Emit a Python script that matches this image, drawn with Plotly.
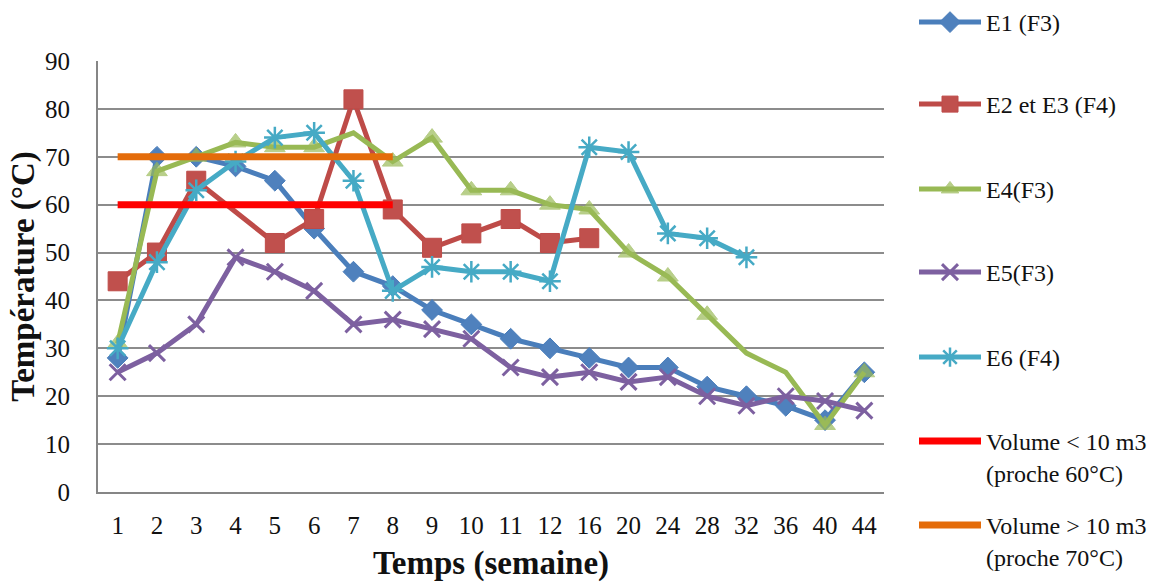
import plotly.graph_objects as go

# Weeks (categorical axis, non-uniform spacing after week 12)
weeks = ["1", "2", "3", "4", "5", "6", "7", "8", "9", "10", "11", "12",
         "16", "20", "24", "28", "32", "36", "40", "44"]

# Compost temperatures (°C) per windrow
e1 = [28, 70, 70, 68, 65, 55, 46, 43, 38, 35, 32, 30, 28, 26, 26, 22, 20, 18, 15, 25]
e2_e3 = [44, 50, 65, None, 52, 57, 82, 59, 51, 54, 57, 52, 53, None, None, None, None, None, None, None]
e4 = [31, 67, 70, 73, 72, 72, 75, 69, 74, 63, 63, 60, 59, 50, 45, 37, 29, 25, 14, 25]
e5 = [25, 29, 35, 49, 46, 42, 35, 36, 34, 32, 26, 24, 25, 23, 24, 20, 18, 20, 19, 17]
e6 = [30, 48, 63, 69, 74, 75, 65, 42, 47, 46, 46, 44, 72, 71, 54, 53, 49, None, None, None]

# Target temperature bands, drawn over weeks 1 to 8
ref_weeks = ["1", "8"]
ref_small = [60, 60]   # volume < 10 m3
ref_large = [70, 70]   # volume > 10 m3

# Weeks of E4 shown without a marker
e4_no_marker = ["7", "32", "36"]

FONT = "Liberation Serif"
TXT = "#111111"

fig = go.Figure()


def add_series(name, y, line_color, marker_color, symbol, size, legend,
               msize=None, mline=0, connect=False):
    fig.add_trace(go.Scatter(
        x=weeks, y=y, name=name, mode="lines+markers",
        connectgaps=connect,
        line=dict(color=line_color, width=5),
        marker=dict(symbol=symbol, size=msize if msize is not None else size,
                    color=marker_color,
                    line=dict(color=line_color, width=mline)),
        legend=legend,
    ))


add_series("E1 (F3)", e1, "#4A7EBB", "#4F81BD", "diamond", 16, "legend", mline=1)
add_series("E2 et E3 (F4)", e2_e3, "#BE4B48", "#C0504D", "square", 19, "legend2",
           mline=1, connect=True)
e4_sizes = [0 if w in e4_no_marker else 18 for w in weeks]
add_series("E4(F3)", e4, "#98B954", "#9BBB59", "triangle-up", 18, "legend3",
           msize=e4_sizes, mline=1)
add_series("E5(F3)", e5, "#7D60A0", "#7D60A0", "x-thin-open", 16, "legend4", mline=3)
add_series("E6 (F4)", e6, "#46AAC5", "#46AAC5", "asterisk-open", 18, "legend5", mline=2.5)

fig.add_trace(go.Scatter(
    x=ref_weeks, y=ref_small, mode="lines", name="Volume < 10 m3<br>(proche 60°C)",
    line=dict(color="#FF0000", width=7), legend="legend6"))
fig.add_trace(go.Scatter(
    x=ref_weeks, y=ref_large, mode="lines", name="Volume > 10 m3<br>(proche 70°C)",
    line=dict(color="#E46C0A", width=7), legend="legend7"))

# One legend box per entry so the entries are evenly spread down the right side
legend_rows = [20, 105, 190, 273, 358, 442, 526]
legend_keys = ["legend", "legend2", "legend3", "legend4", "legend5", "legend6", "legend7"]
H = 582
for key, py in zip(legend_keys, legend_rows):
    fig.update_layout({key: dict(
        x=914 / 1163, y=1 - (py - 23) / H, xref="container", yref="container",
        xanchor="left", yanchor="top", valign="top",
        bgcolor="rgba(0,0,0,0)", borderwidth=0, itemwidth=62,
        font=dict(family=FONT, size=24, color=TXT),
    )})

fig.update_layout(
    width=1163, height=582,
    margin=dict(l=98, r=279, t=61, b=90, autoexpand=False),
    paper_bgcolor="white", plot_bgcolor="white",
    showlegend=True,
    font=dict(family=FONT, size=25, color=TXT),
    xaxis=dict(
        type="category", categoryorder="array", categoryarray=weeks,
        range=[-0.5, len(weeks) - 0.5], automargin=False,
        showline=True, linecolor="#868686", linewidth=2,
        showgrid=False, ticks="", ticklabelstandoff=10,
        tickfont=dict(family=FONT, size=25, color=TXT),
        title=dict(text="<b>Temps (semaine)</b>", standoff=16,
                   font=dict(family=FONT, size=33, color=TXT)),
    ),
    yaxis=dict(
        range=[0, 90], dtick=10, tick0=0, automargin=False,
        showline=True, linecolor="#868686", linewidth=2,
        showgrid=True, gridcolor="#8C8C8C", gridwidth=1.5,
        zeroline=False, ticks="", ticklabelstandoff=21,
        tickfont=dict(family=FONT, size=25, color=TXT),
        title=dict(text="<b>Température (°C)</b>", standoff=0,
                   font=dict(family=FONT, size=33, color=TXT)),
    ),
)

fig.write_html("out.html")
